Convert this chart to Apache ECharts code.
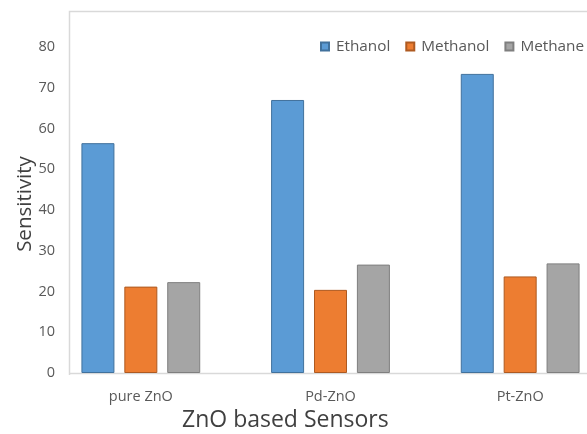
<!DOCTYPE html>
<html>
<head>
<meta charset="utf-8">
<script src="https://cdn.jsdelivr.net/npm/echarts@6/dist/echarts.min.js"></script>
<style>
  html, body { margin: 0; padding: 0; background: #fff; }
  #chart { width: 587px; height: 434px; }
</style>
</head>
<body>
<div id="chart"></div>
<script>
// Sensor materials on the x axis
const categories = ['pure ZnO', 'Pd-ZnO', 'Pt-ZnO'];

// Gas sensitivity per sensor
const ethanol = [56.4, 67.0, 73.4];
const methanol = [21.2, 20.4, 23.7];
const methane = [22.3, 26.6, 26.9];

// Y axis tick range
const yMin = 0;
const yMax = 80;
const yStep = 10;

const FONT = '"Open Sans", Lato, sans-serif';
const frameColor = '#d9d9d9';

function barSeries(name, data, fill, edge) {
  return {
    name: name,
    type: 'bar',
    data: data,
    barWidth: 33,
    barGap: '30%',
    itemStyle: { color: fill, borderColor: edge, borderWidth: 1 }
  };
}

const chart = echarts.init(document.getElementById('chart'));
chart.setOption({
  animation: false,
  backgroundColor: '#ffffff',
  textStyle: { fontFamily: FONT },
  // the plot runs past the right edge of the canvas
  grid: { left: 46, width: 569, top: 47, bottom: 61, containLabel: false, outerBoundsMode: 'none' },
  title: {
    text: 'ZnO based Sensors',
    left: 182,
    top: 409,
    padding: 0,
    textStyle: { fontFamily: FONT, fontSize: 23, fontWeight: 'normal', color: '#404040' }
  },
  legend: {
    left: 320,
    top: 39,
    padding: 0,
    itemWidth: 8,
    itemHeight: 8,
    itemGap: 15,
    icon: 'rect',
    textStyle: { fontFamily: FONT, fontSize: 15.3, color: '#595959', padding: [0, 0, 0, 2] },
    data: ['Ethanol', 'Methanol', 'Methane']
  },
  xAxis: {
    type: 'category',
    data: categories,
    axisLine: { show: false },
    axisTick: { show: false },
    axisLabel: { margin: 16, fontSize: 14.5, color: '#595959', fontFamily: FONT }
  },
  yAxis: {
    type: 'value',
    min: yMin,
    max: yMax,
    interval: yStep,
    offset: -23,
    name: 'Sensitivity',
    nameLocation: 'middle',
    nameGap: 33,
    nameMoveOverlap: false,
    nameTextStyle: { fontSize: 20.5, color: '#404040', fontFamily: FONT, padding: [0, 0, 0, 12] },
    axisLine: { show: false },
    axisTick: { show: false },
    splitLine: { show: false },
    axisLabel: { margin: 14, fontSize: 14.5, color: '#595959', fontFamily: FONT }
  },
  graphic: [
    {
      type: 'polyline',
      silent: true,
      shape: { points: [[69.5, 375], [69.5, 11.5], [587, 11.5]] },
      style: { stroke: frameColor, lineWidth: 1.5, fill: null }
    },
    {
      type: 'line',
      silent: true,
      shape: { x1: 69, y1: 373.5, x2: 587, y2: 373.5 },
      style: { stroke: frameColor, lineWidth: 1.5 }
    }
  ],
  series: [
    barSeries('Ethanol', ethanol, '#5B9BD5', '#41719C'),
    barSeries('Methanol', methanol, '#ED7D31', '#AE5A21'),
    barSeries('Methane', methane, '#A5A5A5', '#7F7F7F')
  ]
});
</script>
</body>
</html>
